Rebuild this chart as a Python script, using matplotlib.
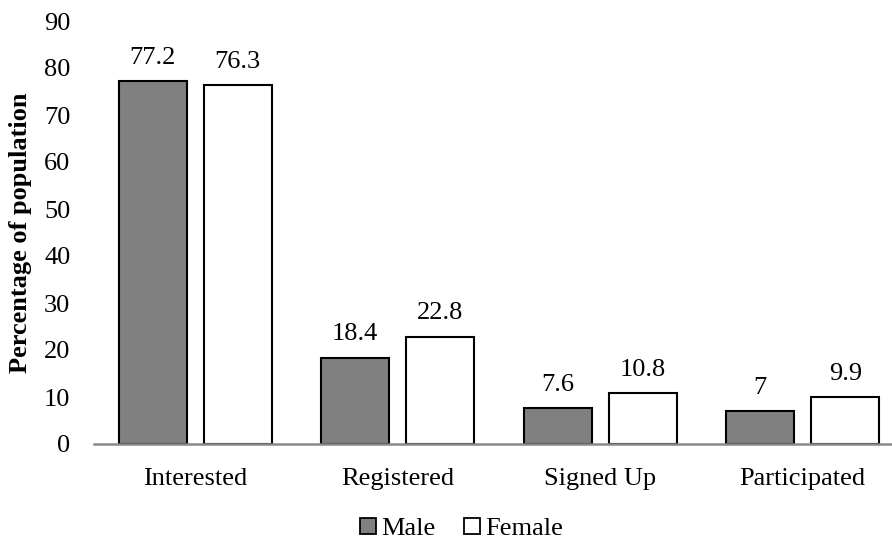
import numpy as np
import matplotlib.pyplot as plt
from matplotlib.lines import Line2D

stages = ["Interested", "Registered", "Signed Up", "Participated"]
male = [77.2, 18.4, 7.6, 7]
female = [76.3, 22.8, 10.8, 9.9]
yticks = [0, 10, 20, 30, 40, 50, 60, 70, 80, 90]

plt.rcParams['font.family'] = ['Liberation Serif', 'DejaVu Serif']
plt.rcParams['font.size'] = 19

fig = plt.figure(figsize=(8.92, 5.4), dpi=100)
# plot area runs a bit past the right edge of the figure
ax = fig.add_axes([94 / 892, 96 / 540, 810 / 892, 423 / 540])

x = np.arange(len(stages))
w = 0.336
off = 0.21
bm = ax.bar(x - off, male, w, color="#808080", edgecolor="black", linewidth=1.5, zorder=2)
bf = ax.bar(x + off, female, w, color="white", edgecolor="black", linewidth=1.5, zorder=2)

for bars, vals in ((bm, male), (bf, female)):
    for b, v in zip(bars, vals):
        ax.annotate(f"{v:g}", (b.get_x() + b.get_width() / 2, v),
                    xytext=(0, 9), textcoords="offset points",
                    ha="center", va="bottom", fontsize=19)

ax.set_xlim(-0.5, 3.5)
ax.set_ylim(0, 90)
ax.set_yticks(yticks)
ax.set_xticks(x)
ax.set_xticklabels(stages)
ax.tick_params(axis="both", length=0)
ax.tick_params(axis="y", pad=17)
ax.tick_params(axis="x", pad=17)

for s in ("top", "right", "left"):
    ax.spines[s].set_visible(False)
ax.spines["bottom"].set_color("#898989")
ax.spines["bottom"].set_linewidth(1.8)
ax.spines["bottom"].set_zorder(3)

ax.set_ylabel("Percentage of population", fontweight="bold", fontsize=19, labelpad=9)

handles = [
    Line2D([], [], marker="s", linestyle="none", markersize=12,
           markerfacecolor="#808080", markeredgecolor="black", markeredgewidth=1.3),
    Line2D([], [], marker="s", linestyle="none", markersize=12,
           markerfacecolor="white", markeredgecolor="black", markeredgewidth=1.3),
]
fig.legend(handles, ["Male", "Female"], loc="center", bbox_to_anchor=(459 / 892, 1 - 528 / 540),
           ncol=2, frameon=False, handletextpad=0.0, columnspacing=0.9, handlelength=1.0,
           fontsize=19, borderpad=0)

fig.savefig("out.png", dpi=100)
